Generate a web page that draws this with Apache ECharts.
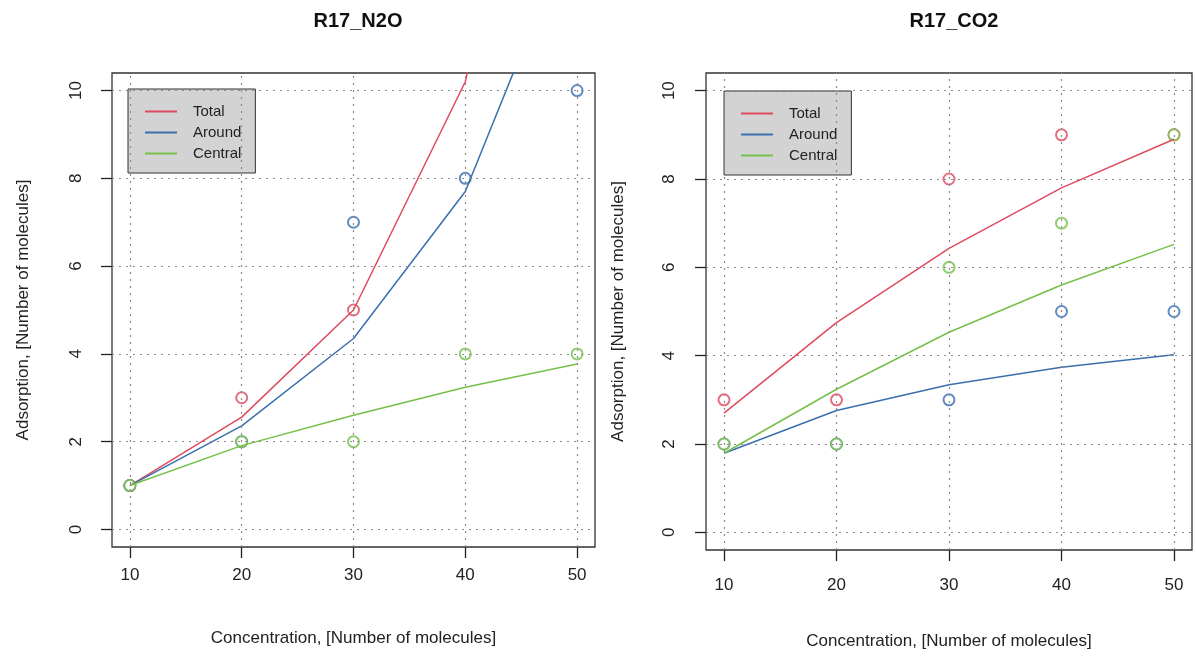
<!DOCTYPE html>
<html>
<head>
    <meta charset="utf-8">
    <title>R17 adsorption</title>
    <script src="https://cdn.jsdelivr.net/npm/echarts@6/dist/echarts.min.js"></script>
    <style>
        html, body { margin: 0; padding: 0; background: #fff; }
        #main { width: 1196px; height: 659px; }
    </style>
</head>
<body>
<div id="main"></div>
<script>
    // concentration values on the x axis
    var concentration = [10, 20, 30, 40, 50];
    var xTicks = [10, 20, 30, 40, 50];
    var yTicks = [0, 2, 4, 6, 8, 10];
    var legendNames = ['Total', 'Around', 'Central'];

    // R17_N2O observed points (total at 40/50 lies above the plot)
    var n2oTotal = [1, 3, 5, null, null];
    var n2oAround = [1, 2, 7, 8, 10];
    var n2oCentral = [1, 2, 2, 4, 4];
    // R17_N2O fitted lines
    var n2oTotalFit = [1.0, 2.56, 5.0, 10.2, 22];
    var n2oAroundFit = [1.0, 2.36, 4.35, 7.7, 14.0];
    var n2oCentralFit = [1.0, 1.91, 2.6, 3.24, 3.77];

    // R17_CO2 observed points
    var co2Total = [3, 3, 8, 9, 9];
    var co2Around = [2, 2, 3, 5, 5];
    var co2Central = [2, 2, 6, 7, 9];
    // R17_CO2 fitted lines
    var co2TotalFit = [2.7, 4.75, 6.43, 7.8, 8.9];
    var co2AroundFit = [1.79, 2.76, 3.34, 3.74, 4.02];
    var co2CentralFit = [1.79, 3.24, 4.53, 5.6, 6.52];

    var colors = {Total: '#df4a5e', Around: '#3a6fae', Central: '#76c04a'};
    var font = 'Liberation Sans, Arial, sans-serif';

    function pairs(vals) {
        return concentration.map(function (c, i) { return [c, vals[i]]; });
    }

    function xAxisFor(idx, margin, gap) {
        return {
            type: 'value', gridIndex: idx, min: 8.4, max: 51.6,
            name: 'Concentration, [Number of molecules]',
            nameLocation: 'middle', nameGap: gap,
            nameTextStyle: {fontFamily: font, fontSize: 17, color: '#222'},
            axisLine: {show: false, onZero: false},
            axisTick: {show: true, customValues: xTicks, length: 11, lineStyle: {color: '#222', width: 1.3}},
            axisLabel: {customValues: xTicks, margin: margin, fontFamily: font, fontSize: 17, color: '#222'},
            splitLine: {show: false}
        };
    }

    function yAxisFor(idx, margin, gap) {
        return {
            type: 'value', gridIndex: idx, min: -0.4, max: 10.4,
            name: 'Adsorption, [Number of molecules]',
            nameLocation: 'middle', nameGap: gap, nameRotate: 90,
            nameTextStyle: {fontFamily: font, fontSize: 17, color: '#222'},
            axisLine: {show: false, onZero: false},
            axisTick: {show: true, customValues: yTicks, length: 11, lineStyle: {color: '#222', width: 1.3}},
            axisLabel: {customValues: yTicks, rotate: 90, margin: margin, fontFamily: font, fontSize: 17, color: '#222'},
            splitLine: {show: false}
        };
    }

    function legendFor(left, top) {
        return {
            left: left, top: top, orient: 'vertical',
            data: legendNames, selectedMode: false, icon: 'rect',
            backgroundColor: '#d3d3d3', borderColor: '#333', borderWidth: 1,
            padding: [15, 14, 12, 17],
            itemWidth: 32, itemHeight: 2, itemGap: 6,
            textStyle: {fontFamily: font, fontSize: 15, color: '#222', padding: [0, 0, 0, 11]}
        };
    }

    function panelSeries(idx, pts, fits) {
        var out = [];
        // dotted reference grid
        out.push({
            type: 'line', xAxisIndex: idx, yAxisIndex: idx, data: [], silent: true,
            markLine: {
                silent: true, symbol: ['none', 'none'], label: {show: false}, animation: false,
                lineStyle: {color: '#8a8a8a', width: 1.2, type: [2, 5]},
                data: xTicks.map(function (v) { return {xAxis: v}; })
                    .concat(yTicks.map(function (v) { return {yAxis: v}; }))
            }
        });
        legendNames.forEach(function (name, k) {
            out.push({
                name: name + ' obs', type: 'scatter', xAxisIndex: idx, yAxisIndex: idx,
                symbol: 'emptyCircle', symbolSize: 11,
                itemStyle: {color: colors[name], borderColor: colors[name], borderWidth: 1.6},
                data: pairs(pts[k]), z: 3
            });
        });
        legendNames.forEach(function (name, k) {
            out.push({
                name: name, type: 'line', xAxisIndex: idx, yAxisIndex: idx,
                symbol: 'none', clip: true,
                lineStyle: {color: colors[name], width: 1.5},
                itemStyle: {color: colors[name]},
                data: pairs(fits[k]), z: 4
            });
        });
        return out;
    }

    var myChart = echarts.init(document.getElementById('main'));
    myChart.setOption({
        animation: false,
        backgroundColor: '#fff',
        title: [
            {text: 'R17_N2O', left: 353, top: 6, textAlign: 'center',
                textStyle: {fontFamily: font, fontSize: 20, fontWeight: 'bold', color: '#111'}},
            {text: 'R17_CO2', left: 949, top: 6, textAlign: 'center',
                textStyle: {fontFamily: font, fontSize: 20, fontWeight: 'bold', color: '#111'}}
        ],
        legend: [legendFor(128, 89), legendFor(724, 91)],
        grid: [
            {left: 112, top: 73, width: 483, height: 474, show: true, borderColor: '#333', borderWidth: 1.3, backgroundColor: 'transparent'},
            {left: 706, top: 73, width: 486, height: 477, show: true, borderColor: '#333', borderWidth: 1.3, backgroundColor: 'transparent'}
        ],
        xAxis: [xAxisFor(0, 20, 83), xAxisFor(1, 27, 83)],
        yAxis: [yAxisFor(0, 27, 80), yAxisFor(1, 28, 79)],
        series: panelSeries(0, [n2oTotal, n2oAround, n2oCentral], [n2oTotalFit, n2oAroundFit, n2oCentralFit])
            .concat(panelSeries(1, [co2Total, co2Around, co2Central], [co2TotalFit, co2AroundFit, co2CentralFit]))
    });
</script>
</body>
</html>
